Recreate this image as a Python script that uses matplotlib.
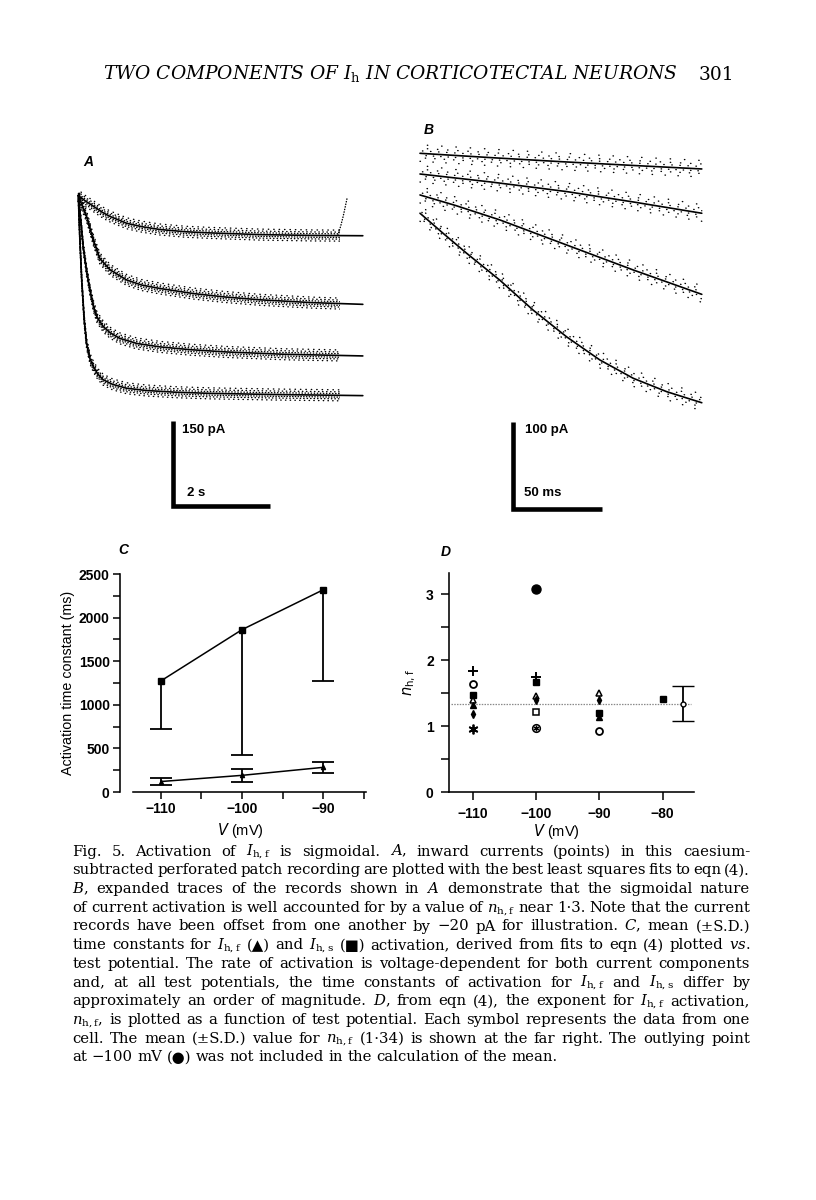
import numpy as np
import matplotlib
matplotlib.use('Agg')
import matplotlib.pyplot as plt
from matplotlib.transforms import offset_copy
from matplotlib.patches import Rectangle

# ---------------- data ----------------
# Panel A: fitted currents (t in s, I in pA), four test potentials
A_t1 = [0, 0.15, 0.31, 0.5, 0.65, 0.99, 1.3, 1.67, 2.2, 2.7, 3.72, 4.8, 5.83]
A_i1 = [-22, -32, -41, -52, -59, -71, -77, -82, -86, -88, -91, -92.5, -93]
A_t2 = [0, 0.08, 0.17, 0.31, 0.44, 0.65, 0.99, 1.3, 1.67, 2.36, 3.0, 3.72, 4.8, 5.83]
A_i2 = [-22, -40, -59, -101, -133, -153, -171, -180, -186, -195, -201, -206, -211, -214]
A_t3 = [0, 0.05, 0.10, 0.17, 0.24, 0.31, 0.38, 0.51, 0.65, 0.85, 1.2, 1.67, 2.3, 3.04, 4.2, 5.83]
A_i3 = [-22, -65, -112, -155, -189, -217, -236, -253, -264, -274, -283, -289, -294, -298, -302, -305]
A_t4 = [0, 0.03, 0.07, 0.12, 0.17, 0.24, 0.31, 0.40, 0.51, 0.7, 0.99, 1.4, 2.0, 2.7, 4.0, 5.83]
A_i4 = [-22, -95, -171, -240, -283, -310, -324, -337, -347, -355, -362, -366, -369, -371, -373, -375]
A_art_t = [5.32, 5.38, 5.43, 5.47, 5.51]
A_art_i = [-92, -75, -58, -42, -26]

# Panel B: expanded traces (t in ms, I in pA)
B_t1 = [0, 40, 79, 120, 158.3]
B_i1 = [0, -5, -9.6, -14, -18]
B_t2 = [0, 40, 82.4, 120, 158.3]
B_i2 = [-23.8, -33, -44, -56, -68.9]
B_t3 = [0, 20, 44.9, 82.4, 119.8, 158.3]
B_i3 = [-47.9, -60, -76.6, -105.4, -134.1, -162.1]
B_t4 = [0, 13, 26.2, 44.9, 63.6, 82.4, 101.1, 119.8, 138.6, 158.3]
B_i4 = [-68.9, -92, -114.9, -145.9, -180.3, -211.0, -237.6, -258.6, -274.0, -286.7]

# Panel C: activation time constants (ms)
V_C = [-110, -100, -90]
tau_s = [1273, 1862, 2320]
tau_s_low = [722, 428, 1273]
tau_f = [120, 191, 283]
tau_f_sd = [37, 77, 65]
C_xticks = [-110, -100, -90]

# Panel D: exponent n_h,f per cell
cell_plus_V, cell_plus_n = [-110, -100], [1.83, 1.75]
cell_ocirc_V, cell_ocirc_n = [-110, -90], [1.64, 0.93]
cell_fsq_V, cell_fsq_n = [-110, -100, -90, -80], [1.48, 1.67, 1.20, 1.41]
cell_ftri_V, cell_ftri_n = [-110, -90], [1.32, 1.14]
cell_otri_V, cell_otri_n = [-110, -100, -90], [1.39, 1.45, 1.50]
cell_fdia_V, cell_fdia_n = [-110, -100, -90], [1.18, 1.39, 1.40]
cell_ast_V, cell_ast_n = [-110], [0.96]
cell_osq_V, cell_osq_n = [-100], [1.21]
cell_cstar_V, cell_cstar_n = [-100], [0.97]
cell_fcirc_V, cell_fcirc_n = [-100], [3.08]
mean_V, mean_n, mean_sd = -76.8, 1.34, 0.265
D_xticks = [-110, -100, -90, -80]

header = r"TWO COMPONENTS OF $I_{\mathrm{h}}$ IN CORTICOTECTAL NEURONS"
page_no = "301"
caption = [
    r"Fig. 5. Activation of $I_{\mathrm{h,f}}$ is sigmoidal. $A$, inward currents (points) in this caesium-",
    r"subtracted perforated patch recording are plotted with the best least squares fits to eqn (4).",
    r"$B$, expanded traces of the records shown in $A$ demonstrate that the sigmoidal nature",
    r"of current activation is well accounted for by a value of $n_{\mathrm{h,f}}$ near 1·3. Note that the current",
    r"records have been offset from one another by −20 pA for illustration. $C$, mean (±S.D.)",
    r"time constants for $I_{\mathrm{h,f}}$ (▲) and $I_{\mathrm{h,s}}$ (■) activation, derived from fits to eqn (4) plotted $vs.$",
    r"test potential. The rate of activation is voltage-dependent for both current components",
    r"and, at all test potentials, the time constants of activation for $I_{\mathrm{h,f}}$ and $I_{\mathrm{h,s}}$ differ by",
    r"approximately an order of magnitude. $D$, from eqn (4), the exponent for $I_{\mathrm{h,f}}$ activation,",
    r"$n_{\mathrm{h,f}}$, is plotted as a function of test potential. Each symbol represents the data from one",
    r"cell. The mean (±S.D.) value for $n_{\mathrm{h,f}}$ (1·34) is shown at the far right. The outlying point",
    r"at −100 mV (●) was not included in the calculation of the mean.",
]

# ---------------- figure ----------------
W, H = 816, 1200
fig = plt.figure(figsize=(W / 100, H / 100), dpi=100)
fig.patch.set_facecolor('white')
SANS = ['Liberation Sans', 'DejaVu Sans']
SERIF = ['DejaVu Serif', 'DejaVu Sans']


def px_axes(x0, y0, x1, y1):
    return fig.add_axes([x0 / W, 1 - y1 / H, (x1 - x0) / W, (y1 - y0) / H])


def ftext(x, y, s, **kw):
    return fig.text(x / W, 1 - y / H, s, **kw)


def noisy_trace(ax, t, i, offsets, styles, lw, clip=None):
    ax.plot(t, i, color='k', lw=1.2, solid_capstyle='round', zorder=3)
    for dy, ls in zip(offsets, styles):
        tr = offset_copy(ax.transData, fig=fig, x=0, y=dy, units='dots')
        ln, = ax.plot(t, i, color='k', lw=lw, ls=ls, transform=tr,
                      dash_capstyle='round', zorder=2)
        if clip is not None:
            ln.set_clip_path(clip)


# Panel A
axA = px_axes(70, 150, 375, 520)
axA.set_xlim((70 - 78.3) / 48.8, (375 - 78.3) / 48.8)
axA.set_ylim((183 - 520) / 0.567, (183 - 150) / 0.567)
axA.axis('off')
clipA = Rectangle((-1, -1000), 1 + 5.37, 1200, transform=axA.transData)
offsA = [-5.5, -3.5, -1.8, 1.8, 3.5, 5.5]
stylesA = [(0, (0.3, 3.1)), (0.8, (0.3, 2.2)), (0.3, (0.3, 1.7)),
           (1.1, (0.3, 1.9)), (0.5, (0.3, 2.6)), (1.4, (0.3, 3.6))]
for t, i in [(A_t1, A_i1), (A_t2, A_i2), (A_t3, A_i3), (A_t4, A_i4)]:
    noisy_trace(axA, t, i, offsA, stylesA, 1.0, clip=clipA)
axA.plot(A_art_t, A_art_i, color='k', lw=1.0, ls=(0, (0.3, 1.6)), dash_capstyle='round')
t0A, i0A = 1.937, -569
axA.plot([t0A, t0A, t0A + 2], [i0A + 150, i0A, i0A], color='k', lw=3.3,
         solid_joinstyle='miter', solid_capstyle='butt', clip_on=False)

# Panel B
axB = px_axes(405, 120, 715, 520)
axB.set_xlim((405 - 420) / 1.78, (715 - 420) / 1.78)
axB.set_ylim((153.3 - 520) / 0.87, (153.3 - 120) / 0.87)
axB.axis('off')
offsB = [-8, -4.5, -2, 2.5, 5, 8.5]
stylesB = [(0, (0.3, 9)), (3, (0.3, 6.5)), (1, (0.3, 5)),
           (4, (0.3, 5.5)), (2, (0.3, 7)), (5, (0.3, 10))]
for t, i in [(B_t1, B_i1), (B_t2, B_i2), (B_t3, B_i3), (B_t4, B_i4)]:
    noisy_trace(axB, t, i, offsB, stylesB, 1.0)
t0B, i0B = 52.4, -408.9
axB.plot([t0B, t0B, t0B + 50], [i0B + 100, i0B, i0B], color='k', lw=3.3,
         solid_joinstyle='miter', solid_capstyle='butt', clip_on=False)

# scale bar labels
lab_kw = dict(fontsize=9.5, fontweight='bold', family=SANS, va='center', ha='left')
ftext(182, 430, '150 pA', **lab_kw)
ftext(187, 492.5, '2 s', **lab_kw)
ftext(525, 430, '100 pA', **lab_kw)
ftext(524, 492.5, '50 ms', **lab_kw)

# panel letters
let_kw = dict(fontsize=10, fontweight='bold', style='italic', family=SANS, ha='center', va='center')
ftext(88.5, 162, 'A', **let_kw)
ftext(428.5, 130, 'B', **let_kw)
ftext(123.5, 550, 'C', **let_kw)
ftext(445.5, 552, 'D', **let_kw)


def style_axes(ax):
    for s in ['top', 'right']:
        ax.spines[s].set_visible(False)
    for s in ['left', 'bottom']:
        ax.spines[s].set_linewidth(1.15)
    ax.tick_params(which='both', direction='out', width=1.1, colors='k')
    for lab in ax.get_xticklabels() + ax.get_yticklabels():
        lab.set_family(SANS)
        lab.set_fontweight('bold')
        lab.set_fontsize(10)


# Panel C
axC = px_axes(120.1, 574, 366.5, 792)
axC.set_xlim(-115, -84.7)
axC.set_ylim(0, 2500)
axC.vlines(V_C, tau_s_low, tau_s, color='k', lw=1.3)
axC.plot(V_C, tau_s_low, ls='none', marker='_', ms=15.8, mew=1.3, color='k')
axC.plot(V_C, tau_s, color='k', lw=1.1, marker='s', ms=4, clip_on=False, zorder=4)
axC.errorbar(V_C, tau_f, yerr=tau_f_sd, color='k', lw=1.1, marker='^', ms=3,
             elinewidth=1.3, capsize=7.9, capthick=1.3, clip_on=False, zorder=4)
axC.set_xticks(C_xticks)
axC.set_xticks([-105, -95, -85], minor=True)
axC.set_yticks(range(0, 2501, 500))
axC.set_yticks(range(250, 2500, 500), minor=True)
axC.spines['bottom'].set_bounds(-113.4, -84.7)
axC.set_xticklabels(['−110', '−100', '−90'])
axC.tick_params(axis='both', which='both', length=5, pad=2.5)
style_axes(axC)
axC.set_xlabel('$V$ (mV)', fontsize=10.5, family=SANS, math_fontfamily='dejavusans')
axC.xaxis.set_label_coords((240 - 120.1) / 246.4, -0.135)
axC.set_ylabel('Activation time constant (ms)', fontsize=10.3, family=SANS, labelpad=3)

# Panel D
axD = px_axes(449, 573.3, 694, 792)
axD.set_xlim(-113.74, -75.06)
axD.set_ylim(0, 3.32)
axD.plot([-113.5, -75.5], [mean_n, mean_n], color='#8a8a8a', lw=0.9, ls=(0, (1.2, 1.0)), zorder=1)
mk = dict(color='k', ls='none', clip_on=False, zorder=4)
axD.plot(cell_plus_V, cell_plus_n, marker='+', ms=7, mew=1.4, **mk)
axD.plot(cell_ocirc_V, cell_ocirc_n, marker='o', ms=5, mew=1.3, mfc='white', **mk)
axD.plot(cell_fsq_V, cell_fsq_n, marker='s', ms=4.5, **mk)
axD.plot(cell_otri_V, cell_otri_n, marker='^', ms=4.5, mew=1.1, mfc='white', **mk)
axD.plot(cell_ftri_V, cell_ftri_n, marker='^', ms=4.5, **mk)
axD.plot(cell_fdia_V, cell_fdia_n, marker='d', ms=4, **mk)
axD.plot(cell_ast_V, cell_ast_n, marker=(6, 2, 0), ms=7, mew=1.3, **mk)
axD.plot(cell_osq_V, cell_osq_n, marker='s', ms=4.5, mew=1.1, mfc='white', **mk)
axD.plot(cell_cstar_V, cell_cstar_n, marker='o', ms=5.5, mew=1.1, mfc='white', **mk)
axD.plot(cell_cstar_V, cell_cstar_n, marker=(6, 2, 0), ms=4, mew=0.9, **mk)
axD.plot(cell_fcirc_V, cell_fcirc_n, marker='o', ms=6.5, **mk)
axD.errorbar([mean_V], [mean_n], yerr=[mean_sd], fmt='o', ms=3.5, mfc='white', mec='k',
             mew=1.0, ecolor='k', elinewidth=1.3, capsize=7.9, capthick=1.3, zorder=4)
axD.set_xticks(D_xticks)
axD.set_xticklabels(['−110', '−100', '−90', '−80'])
axD.set_yticks([0, 1, 2, 3])
axD.set_yticks([0.5, 1.5, 2.5], minor=True)
axD.tick_params(axis='both', which='both', length=6, pad=5)
style_axes(axD)
axD.set_xlabel('$V$ (mV)', fontsize=10.5, family=SANS, math_fontfamily='dejavusans')
axD.xaxis.set_label_coords((556.7 - 449) / 245, -0.135)
axD.set_ylabel(r'$n_{\mathrm{h,f}}$', fontsize=10.5, math_fontfamily='dejavusans', labelpad=6)

# ---------------- page text ----------------
renderer = fig.canvas.get_renderer()

# header
hdr = ftext(103, 79.5, header, fontsize=12, style='italic', family=SERIF,
            math_fontfamily='dejavuserif', va='baseline', ha='left')
wh = hdr.get_window_extent(renderer).width
hfs = 12 * (675 - 103) / wh
hdr.set_fontsize(hfs)
ftext(734, 79.5, page_no, fontsize=hfs, family=SERIF, va='baseline', ha='right')

# caption, justified
cx0, cx1 = 72.5, 750
cy0, cdy = 855.7, 18.7
base_fs = 10


def word_widths(words, fs):
    ws = []
    for w in words:
        t = fig.text(0, 0, w, fontsize=fs, family=SERIF, math_fontfamily='dejavuserif')
        ws.append(t.get_window_extent(renderer).width)
        t.remove()
    return ws


min_space = 0.2 * base_fs * 100 / 72
nat = []
for line in caption:
    words = line.split(' ')
    ws = word_widths(words, base_fs)
    nat.append(sum(ws) + min_space * (len(words) - 1))
cap_fs = base_fs * (cx1 - cx0) / max(nat[:-1])

for k, line in enumerate(caption):
    words = line.split(' ')
    y = cy0 + k * cdy
    texts = [ftext(0, y, w, fontsize=cap_fs, family=SERIF, math_fontfamily='dejavuserif',
                   va='baseline', ha='left') for w in words]
    ws = [t.get_window_extent(renderer).width for t in texts]
    if k < len(caption) - 1 and len(words) > 1:
        gap = (cx1 - cx0 - sum(ws)) / (len(words) - 1)
    else:
        gap = 0.3 * cap_fs * 100 / 72
    x = cx0
    for t, w in zip(texts, ws):
        t.set_x(x / W)
        x += w + gap

fig.savefig('out.png', dpi=100, facecolor='white')
